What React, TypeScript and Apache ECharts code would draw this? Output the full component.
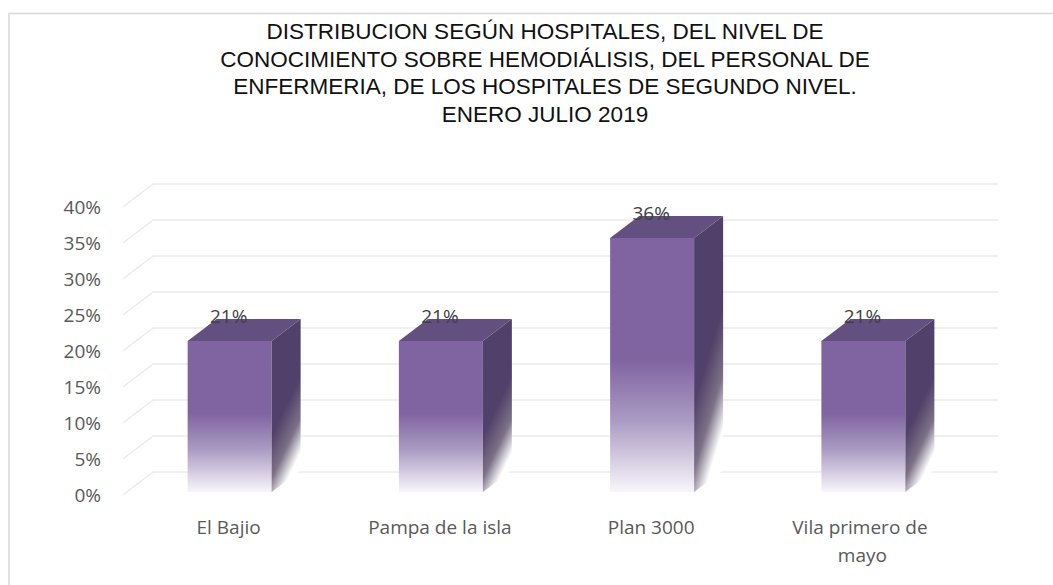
import React, { useEffect, useRef } from 'react';
import * as echarts from 'echarts';

const titleLines = [
  'DISTRIBUCION SEGÚN HOSPITALES, DEL NIVEL DE',
  'CONOCIMIENTO SOBRE HEMODIÁLISIS, DEL PERSONAL DE',
  'ENFERMERIA, DE LOS HOSPITALES DE SEGUNDO NIVEL.',
  'ENERO JULIO 2019',
];
const categories = ['El Bajio', 'Pampa de la isla', 'Plan 3000', 'Vila primero de mayo'];
const values = [0.214, 0.214, 0.357, 0.214];
const yTicks = [0, 0.05, 0.1, 0.15, 0.2, 0.25, 0.3, 0.35, 0.4];

const WALL_DX = 30;
const WALL_DY = -23;
const BAR_DX = 29;
const BAR_DY = -22;
const BAR_W = 84;
const FONT = '"Open Sans", "Noto Sans", sans-serif';

const pct = (v: number) => Math.round(v * 100) + '%';

export default function App() {
  const ref = useRef<HTMLDivElement>(null);
  useEffect(() => {
    if (!ref.current) return;
    const chart = echarts.init(ref.current, undefined, { renderer: 'svg' });

    const frontGrad = new echarts.graphic.LinearGradient(0, 0, 0, 1, [
      { offset: 0, color: '#8064a2' },
      { offset: 0.48, color: '#8064a2' },
      { offset: 0.72, color: '#ab9bc3' },
      { offset: 1, color: '#f8f6fb' },
    ]);
    const sideGrad = new echarts.graphic.LinearGradient(0, 0, 0.35, 1, [
      { offset: 0, color: '#514069' },
      { offset: 0.6, color: '#514069' },
      { offset: 0.82, color: '#7c7187' },
      { offset: 1, color: '#ffffff' },
    ]);

    chart.setOption({
      animation: false,
      backgroundColor: '#ffffff',
      title: {
        text: titleLines.join('\n'),
        left: 540,
        top: 13,
        textAlign: 'center',
        textStyle: {
          fontFamily: '"Liberation Sans", Arial, sans-serif',
          fontSize: 22.5,
          fontWeight: 'normal',
          color: '#111111',
          lineHeight: 27.5,
          align: 'center',
        },
      },
      graphic: [
        {
          type: 'rect',
          shape: { x: 9, y: 13.5, width: 2000, height: 2000 },
          style: { fill: 'none', stroke: '#d9d9d9', lineWidth: 1.5 },
          silent: true,
        },
      ],
      grid: { left: 123, right: 85, top: 207, bottom: 90 },
      xAxis: {
        type: 'category',
        data: categories,
        axisLine: { show: false },
        axisTick: { show: false },
        splitLine: { show: false },
        axisLabel: {
          color: '#595959',
          fontFamily: FONT,
          fontSize: 19,
          lineHeight: 28,
          margin: 18,
          width: 175,
          overflow: 'break',
          interval: 0,
        },
      },
      yAxis: {
        type: 'value',
        min: 0,
        max: 0.4,
        interval: 0.05,
        axisLine: { show: false },
        axisTick: { show: false },
        splitLine: { show: false },
        axisLabel: {
          color: '#595959',
          fontFamily: FONT,
          fontSize: 19,
          margin: 22,
          formatter: (v: number) => pct(v),
        },
      },
      series: [
        {
          type: 'custom',
          z: 1,
          silent: true,
          clip: false,
          data: yTicks.map((t) => [0, t]),
          renderItem: (params: any, api: any) => {
            const cs = params.coordSys;
            const y = api.coord([0, api.value(1)])[1];
            const x0 = cs.x;
            const x1 = cs.x + cs.width;
            const st = { stroke: '#ebebeb', lineWidth: 1.5, fill: 'none' };
            return {
              type: 'polyline',
              shape: {
                points: [
                  [x0, y],
                  [x0 + WALL_DX, y + WALL_DY],
                  [x1 + WALL_DX, y + WALL_DY],
                ],
              },
              style: st,
            };
          },
        },
        {
          type: 'custom',
          z: 5,
          clip: false,
          data: values.map((v, i) => [i, v]),
          renderItem: (params: any, api: any) => {
            const idx = api.value(0);
            const v = api.value(1);
            const top = api.coord([idx, v]);
            const base = api.coord([idx, 0]);
            const x0 = top[0] - BAR_W / 2 + 1;
            const x1 = x0 + BAR_W;
            const yt = top[1];
            const yb = base[1] - 3;
            return {
              type: 'group',
              children: [
                {
                  type: 'rect',
                  shape: { x: x0, y: yt, width: BAR_W, height: yb - yt },
                  style: { fill: frontGrad },
                },
                {
                  type: 'polygon',
                  shape: {
                    points: [
                      [x1, yt],
                      [x1 + BAR_DX, yt + BAR_DY],
                      [x1 + BAR_DX, yb + BAR_DY],
                      [x1, yb],
                    ],
                  },
                  style: { fill: sideGrad },
                },
                {
                  type: 'polygon',
                  shape: {
                    points: [
                      [x0, yt],
                      [x0 + BAR_DX, yt + BAR_DY],
                      [x1 + BAR_DX, yt + BAR_DY],
                      [x1, yt],
                    ],
                  },
                  style: { fill: '#634f80' },
                },
                {
                  type: 'text',
                  x: top[0],
                  y: yt + BAR_DY - 3,
                  style: {
                    text: pct(v),
                    fill: '#404040',
                    fontSize: 19,
                    fontFamily: FONT,
                    align: 'center',
                    verticalAlign: 'middle',
                    textAlign: 'center',
                    textVerticalAlign: 'middle',
                  },
                },
              ],
            };
          },
        },
      ],
    });
    return () => chart.dispose();
  }, []);
  return (
    <div
      ref={ref}
      style={{ position: 'absolute', left: 0, top: 0, width: 1053, height: 585 }}
    />
  );
}
